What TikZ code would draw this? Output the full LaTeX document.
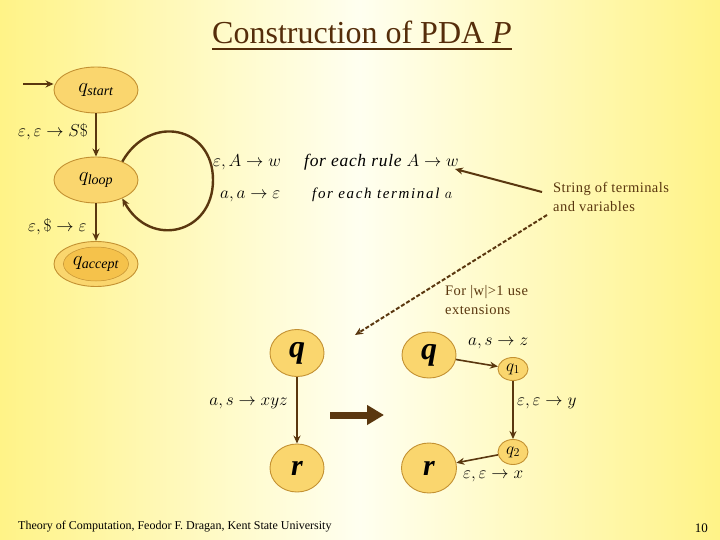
\documentclass[tikz,border=0pt]{standalone}
\usepackage{fontspec}
\setmainfont{Liberation Serif}
\usetikzlibrary{shapes.geometric,arrows.meta}
\definecolor{bgy}{RGB}{255,243,135}
\definecolor{bgw}{RGB}{255,255,240}
\definecolor{nfill}{RGB}{250,214,110}
\definecolor{nborder}{RGB}{195,145,50}
\definecolor{ninner}{RGB}{245,194,75}
\definecolor{brn}{RGB}{90,55,15}
\definecolor{ttl}{RGB}{85,45,10}
\tikzset{
  st/.style={ellipse, draw=nborder, fill=nfill, line width=0.9pt, inner sep=0pt},
  arr/.style={draw=brn, line width=2pt, -{Stealth[length=8pt,width=7pt]}},
  lbl/.style={inner sep=0pt, anchor=west, text=black},
  note/.style={inner sep=0pt, anchor=west, text=brn, font=\fontsize{14.5}{19}\selectfont\addfontfeatures{LetterSpace=3}, align=left},
}
\begin{document}
\begin{tikzpicture}[x=1pt,y=-1pt]
\shade[left color=bgy, right color=bgy, middle color=bgw] (0,0) rectangle (720,540);
\useasboundingbox (0,0) rectangle (720,540);

% title
\node[inner sep=0pt, anchor=base, text=ttl, font=\fontsize{32}{36}\selectfont] (title) at (362,44) {Construction of PDA \textit{P}};
\draw[ttl, line width=1.3pt] ([yshift=-5pt]title.base west) -- ([yshift=-5pt]title.base east);

% main PDA
\node[st, minimum width=84pt, minimum height=46pt] (qstart) at (96,90) {\fontsize{20}{24}\selectfont $q_{\mathit{start}}$};
\node[st, minimum width=84pt, minimum height=46pt] (qloop) at (96,180) {\fontsize{20}{24}\selectfont $q_{\mathit{loop}}$};
\node[st, minimum width=84pt, minimum height=45pt] (qaccept) at (96,264) {};
\node[st, fill=ninner, line width=0.5pt, minimum width=60pt, minimum height=34pt] (qacceptin) at (qaccept.center) {\fontsize{20}{24}\selectfont $q_{\mathit{accept}}$};

\coordinate (startin) at (23,84);
\draw[arr] (startin) -- (qstart.west |- startin);
\draw[arr] (qstart.south) -- (qloop.north);
\draw[arr] (qloop.south) -- (qaccept.north);
\draw[arr, line width=2.4pt] (qloop.35) .. controls (150,113) and (213,126) .. (213,180) .. controls (213,234) and (150,249) .. (qloop.-35);

\node[lbl, font=\fontsize{18.5}{22}\selectfont] (l1) at (18,132) {$\varepsilon,\varepsilon\rightarrow S\$$};
\node[lbl, font=\fontsize{18.5}{22}\selectfont] (l2) at (28,227) {$\varepsilon,\$\rightarrow\varepsilon$};
\node[lbl, font=\fontsize{17}{20}\selectfont] (l3) at (213,162) {$\varepsilon,A\rightarrow w$};
\node[lbl, font=\fontsize{16.5}{18}\selectfont] (l4) at (220,196) {$a,a\rightarrow\varepsilon$};
\node[lbl, font=\fontsize{17.5}{20}\selectfont] (l5) at (304,162) {{\addfontfeatures{LetterSpace=4}\textit{for each rule}} $A\rightarrow w$};
\node[lbl, font=\fontsize{15}{17}\selectfont] (l6) at (312,195) {{\addfontfeatures{LetterSpace=11}\textit{for each terminal}} $a$};

% notes
\node[note] (n1) at (553,197) {String of terminals\\and variables};
\node[note] (n2) at (445,300) {For |w|>1 use\\extensions};
\coordinate (c1) at (542,192);
\coordinate (c2) at (455,169);
\coordinate (d1) at (547,215);
\coordinate (d2) at (355,335);
\draw[arr] (c1) -- (c2);
\draw[arr, dash pattern=on 4pt off 2pt] (d1) -- (d2);

% left small machine
\node[st, minimum width=54pt, minimum height=47pt] (q) at (297,353) {\fontsize{32}{36}\selectfont\textbf{\textit{q}}};
\node[st, minimum width=54pt, minimum height=48pt] (r) at (297,468) {\fontsize{30}{36}\selectfont\textbf{\textit{r}}};
\draw[arr, line width=1.6pt] (q.south) -- (r.north);
\node[lbl, anchor=east, font=\fontsize{16.5}{19}\selectfont] (l7) at (288,403) {$a,s\rightarrow xyz$};

% big arrow
\coordinate (b1) at (330,415);
\coordinate (b2) at (384,415);
\draw[brn, line width=7pt, -{Triangle[length=17pt,width=19pt]}] (b1) -- (b2);

% right machine
\node[st, minimum width=54pt, minimum height=46pt] (Q) at (429,355) {\fontsize{32}{36}\selectfont\textbf{\textit{q}}};
\node[st, minimum width=30pt, minimum height=23pt] (q1) at (513,369) {\fontsize{17}{20}\selectfont $q_1$};
\node[st, minimum width=30pt, minimum height=25pt] (q2) at (513,452) {\fontsize{17}{20}\selectfont $q_2$};
\node[st, minimum width=55pt, minimum height=50pt] (R) at (429,468) {\fontsize{30}{36}\selectfont\textbf{\textit{r}}};
\draw[arr, line width=1.6pt] (Q) -- (q1);
\draw[arr, line width=1.6pt] (q1) -- (q2);
\draw[arr, line width=1.6pt] (q2) -- (R);
\node[lbl, font=\fontsize{17}{20}\selectfont] (l8) at (468,343) {$a,s\rightarrow z$};
\node[lbl, font=\fontsize{17.5}{20}\selectfont] (l9) at (517,403) {$\varepsilon,\varepsilon\rightarrow y$};
\node[lbl, font=\fontsize{17}{20}\selectfont] (l10) at (463,476) {$\varepsilon,\varepsilon\rightarrow x$};

% footer
\node[lbl, font=\fontsize{12}{14}\selectfont] (foot) at (18,527) {Theory of Computation, Feodor F. Dragan, Kent State University};
\node[lbl, anchor=east, font=\fontsize{13}{14}\selectfont] (page) at (708,528) {10};
\end{tikzpicture}
\end{document}
